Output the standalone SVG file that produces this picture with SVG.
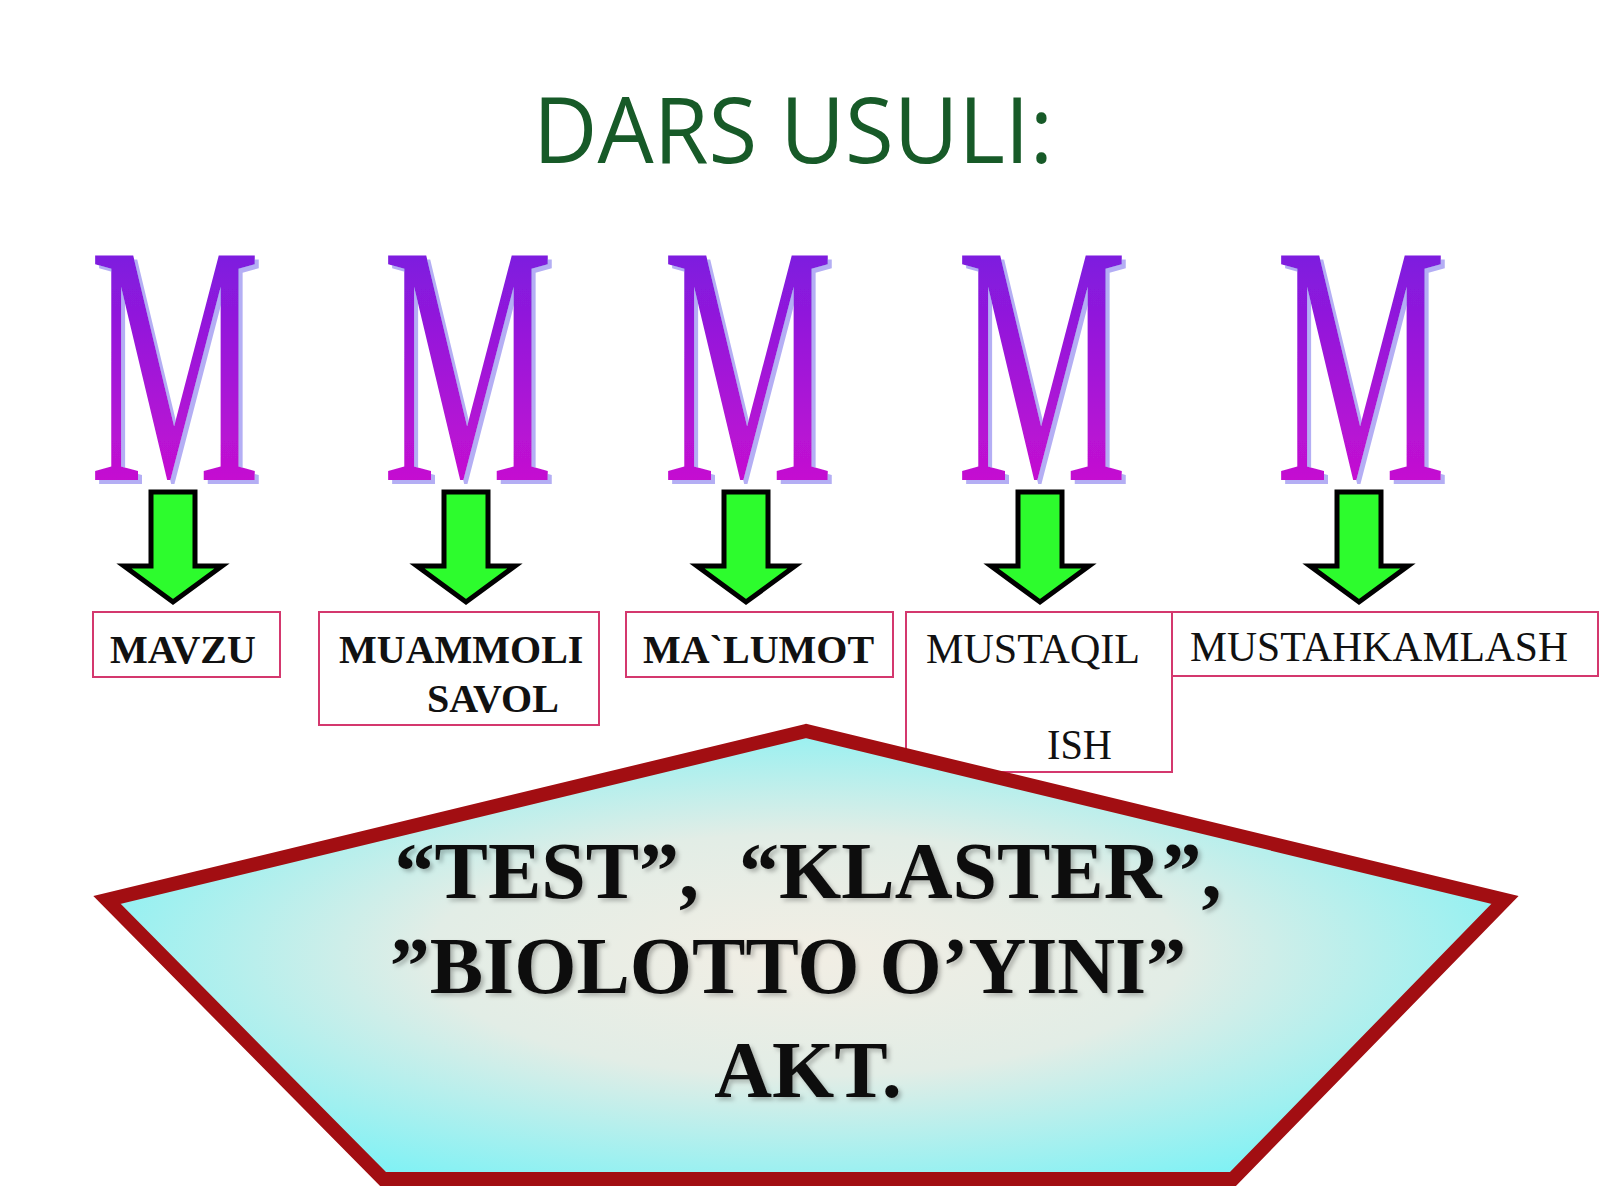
<svg xmlns="http://www.w3.org/2000/svg" width="1600" height="1200" viewBox="0 0 1600 1200">
<defs>
<style>
.title{font-family:"Open Sans","Noto Sans",sans-serif;font-size:92px;fill:#175a28;}
.m{font-family:"Liberation Serif",serif;font-size:343px;text-anchor:middle;fill:url(#mg);filter:url(#msh);}
.lbl{font-family:"Liberation Serif",serif;font-size:40px;font-weight:bold;fill:#111;}
.lblr{font-family:"Liberation Serif",serif;font-size:42px;fill:#111;}
.box{fill:#fff;stroke:#d4386e;stroke-width:2;}
.big{font-family:"Liberation Serif",serif;font-size:80px;font-weight:bold;fill:#111;text-anchor:middle;}
.arrow{fill:#2dfc2d;stroke:#000;stroke-width:5;stroke-linejoin:miter;}
</style>
<linearGradient id="mg" x1="0" y1="0" x2="0" y2="1">
<stop offset="0" stop-color="#6420e4"/>
<stop offset="1" stop-color="#dc0ccc"/>
</linearGradient>
<radialGradient id="pg" cx="0.5" cy="0.5" r="0.6">
<stop offset="0" stop-color="#f2eee4"/>
<stop offset="0.45" stop-color="#e2ede6"/>
<stop offset="1" stop-color="#76f2f6"/>
</radialGradient>
<polygon id="arr" points="-22,492 22,492 22,566 49,566 0,602 -49,566 -22,566"/>
<filter id="msh" x="-10%" y="-10%" width="125%" height="125%">
<feFlood flood-color="#b4aef4"/>
<feComposite in2="SourceAlpha" operator="in"/>
<feOffset dx="8" dy="4" result="s"/>
<feMerge><feMergeNode in="s"/><feMergeNode in="SourceGraphic"/></feMerge>
</filter>
<filter id="sh" x="-5%" y="-5%" width="110%" height="110%">
<feDropShadow dx="3" dy="3" stdDeviation="2" flood-color="#000" flood-opacity="0.25"/>
</filter>
</defs>
<rect width="1600" height="1200" fill="#fff"/>
<g id="title">
<text class="title" x="533" y="163" textLength="520" lengthAdjust="spacingAndGlyphs">DARS USULI:</text>
</g>
<g id="letters">
<g id="m1"><text class="m" transform="translate(175,480) scale(0.56,1)">M</text></g>
<g id="m2"><text class="m" transform="translate(468,480) scale(0.56,1)">M</text></g>
<g id="m3"><text class="m" transform="translate(748,480) scale(0.56,1)">M</text></g>
<g id="m4"><text class="m" transform="translate(1042,480) scale(0.56,1)">M</text></g>
<g id="m5"><text class="m" transform="translate(1361,480) scale(0.56,1)">M</text></g>
</g>
<g id="connectors">
<use href="#arr" class="arrow" x="173"/>
<use href="#arr" class="arrow" x="466"/>
<use href="#arr" class="arrow" x="746"/>
<use href="#arr" class="arrow" x="1040"/>
<use href="#arr" class="arrow" x="1359"/>
</g>
<g id="box-mavzu">
<rect class="box" x="93" y="612" width="187" height="65"/>
<text class="lbl" x="110" y="663">MAVZU</text>
</g>
<g id="box-muammoli">
<rect class="box" x="319" y="612" width="280" height="113"/>
<text class="lbl" x="339" y="663">MUAMMOLI</text>
<text class="lbl" x="427" y="712">SAVOL</text>
</g>
<g id="box-malumot">
<rect class="box" x="626" y="612" width="267" height="65"/>
<text class="lbl" x="643" y="663">MA`LUMOT</text>
</g>
<g id="box-mustaqil">
<rect class="box" x="906" y="612" width="266" height="160"/>
<text class="lblr" x="926" y="663" textLength="214" lengthAdjust="spacingAndGlyphs">MUSTAQIL</text>
<text class="lblr" x="1047" y="759" textLength="65" lengthAdjust="spacingAndGlyphs">ISH</text>
</g>
<g id="box-mustahkamlash">
<rect class="box" x="1172" y="612" width="426" height="64"/>
<text class="lblr" x="1190" y="661" textLength="378" lengthAdjust="spacingAndGlyphs">MUSTAHKAMLASH</text>
</g>
<g id="pentagon">
<polygon points="806,731 107,900 383,1179 1233,1179 1505,900" fill="url(#pg)" stroke="#a20e12" stroke-width="14" stroke-linejoin="miter"/>
<g filter="url(#sh)">
<text class="big" x="808" y="898">“TEST”,&#160;&#160;“KLASTER”,</text>
<text class="big" x="788" y="993">”BIOLOTTO O’YINI”</text>
<text class="big" x="808" y="1097">AKT.</text>
</g>
</g>
</svg>
